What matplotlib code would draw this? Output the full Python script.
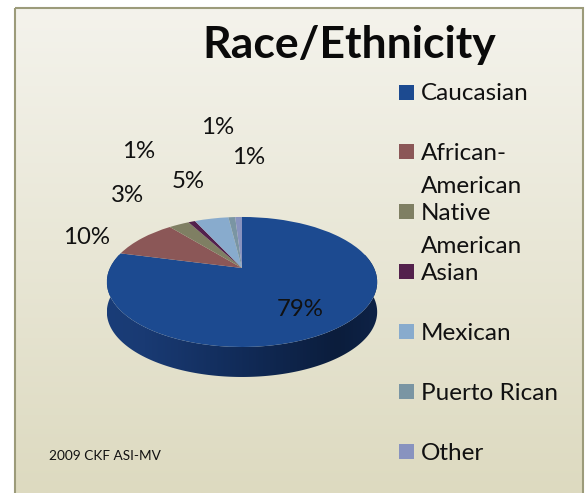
import numpy as np
import matplotlib
matplotlib.use('Agg')
import matplotlib.pyplot as plt
from matplotlib.patches import Rectangle, Polygon
from matplotlib.path import Path
from matplotlib.transforms import Transform, Affine2D

# values
categories = ['Caucasian', 'African-\nAmerican', 'Native\nAmerican', 'Asian',
              'Mexican', 'Puerto Rican', 'Other']
percents = [79, 10, 3, 1, 5, 1, 1]
colors = ['#1C4A90', '#8B5757', '#7F7F63', '#53214C', '#88ABCD', '#7A95A3', '#8893BF']

plt.rcParams['font.family'] = ['Lato', 'DejaVu Sans']

W, H = 586, 493
fig = plt.figure(figsize=(W / 100, H / 100), dpi=100)
ax = fig.add_axes([0, 0, 1, 1])

# pie is tilted in perspective: far half squashed, near half stretched
TILT = 0.215
RX, RY = 132.0, 62.0
CX, CY = 242.0, 268.0
DEPTH = 30.0


class Tilt(Transform):
    input_dims = output_dims = 2
    has_inverse = False

    def transform_non_affine(self, xy):
        xy = np.asarray(xy, dtype=float)
        w = 1 + TILT * xy[:, 1]
        return np.column_stack([xy[:, 0] / w, xy[:, 1] / w])

    def transform_path_non_affine(self, path):
        return Path(self.transform_non_affine(path.vertices), path.codes)


wedges, _ = ax.pie(percents, colors=colors, startangle=90, counterclock=False,
                   radius=1, frame=True, wedgeprops={'linewidth': 0})

ax.set_aspect('auto')
ax.set_xlim(0, W)
ax.set_ylim(H, 0)
ax.set_xticks([])
ax.set_yticks([])
ax.set_frame_on(False)

face = Tilt() + Affine2D().scale(RX, -RY).translate(CX, CY) + ax.transData
for w in wedges:
    w.set_transform(face)
    w.set_clip_on(False)
    w.set_zorder(5)

# panel background, pale at the top going to khaki at the bottom
panel = Rectangle((15, 8), 568, H, facecolor='none', edgecolor='#9C9B7A', linewidth=1.5, zorder=2)
ax.add_patch(panel)
bg = np.linspace(0, 1, 256).reshape(-1, 1, 1)
top_c = np.array([0xF4, 0xF3, 0xEC]) / 255
bot_c = np.array([0xDD, 0xDA, 0xC0]) / 255
img = ax.imshow(top_c + (bot_c - top_c) * bg, extent=(15, 583, H, 8), aspect='auto', zorder=1)
ax.set_xlim(0, W)
ax.set_ylim(H, 0)

# rim under the near edge of the pie, shaded left to right
t = np.radians(np.linspace(-193, 13, 300))
ux, uy = np.cos(t), np.sin(t)
w_ = 1 + TILT * uy
ex = CX + RX * ux / w_
ey = CY - RY * uy / w_
rim_xy = np.vstack([np.column_stack([ex, ey]),
                    np.column_stack([ex[::-1], ey[::-1] + DEPTH])])
rim_clip = Polygon(rim_xy, closed=True, transform=ax.transData, facecolor='none', edgecolor='none')
ax.add_patch(rim_clip)
stops_x = [0, 0.14, 0.5, 0.85, 1]
stops_c = np.array([[0x1A, 0x3D, 0x78], [0x19, 0x3A, 0x73], [0x11, 0x2B, 0x58],
                    [0x0B, 0x1D, 0x3C], [0x0E, 0x22, 0x46]]) / 255
u = np.linspace(0, 1, 300)
grad = np.stack([np.interp(u, stops_x, stops_c[:, i]) for i in range(3)], axis=-1)[np.newaxis]
rim = ax.imshow(grad, extent=(ex.min(), ex.max(), ey.max() + DEPTH, ey.min()), aspect='auto', zorder=4)
rim.set_clip_path(rim_clip)
ax.set_xlim(0, W)
ax.set_ylim(H, 0)

# data labels, placed by hand like the original
label_pos = [(300, 310), (87, 237), (127, 195), (139, 151), (188, 182), (218, 127), (249, 158)]
for p, (lx, ly) in zip(percents, label_pos):
    ax.text(lx, ly, f'{p}%', fontsize=17.3, color='#111111', ha='center', va='center', zorder=6)

ax.text(349, 45, 'Race/Ethnicity', fontsize=32, fontweight='bold', color='#0A0A0A',
        ha='center', va='center', zorder=6)
ax.text(49, 456, '2009 CKF ASI-MV', fontsize=9.8, color='#111111', ha='left', va='center', zorder=6)

# legend
for i, (name, c) in enumerate(zip(categories, colors)):
    y = 92 + 59.9 * i
    ax.add_patch(Rectangle((399, y - 7.5), 15, 15, facecolor=c, edgecolor='none', zorder=6))
    lines = name.split('\n')
    for j, line in enumerate(lines):
        ax.text(421, y + 2 + 33 * j, line, fontsize=17.5, color='#111111', ha='left', va='center', zorder=6)

fig.savefig('out.png', dpi=100, facecolor='white')
